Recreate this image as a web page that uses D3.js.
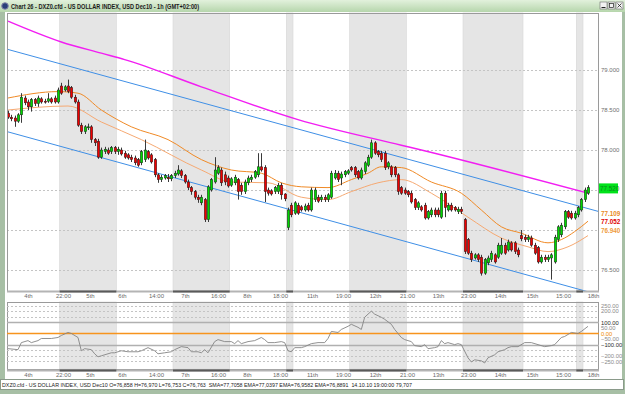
<!DOCTYPE html>
<html><head><meta charset="utf-8">
<script src="https://cdn.jsdelivr.net/npm/d3@7"></script>
<style>html,body{margin:0;padding:0;background:#fff;overflow:hidden}text{font-family:"Liberation Sans",Arial,sans-serif}</style>
</head><body><svg id="c" width="625" height="394"></svg>
<script>
// ---------- DATA ----------
const opens=[78.46,78.41,78.40,78.36,78.44,78.65,78.60,78.54,78.63,78.58,78.64,78.61,78.61,78.64,78.65,78.60,78.80,78.75,78.80,78.78,78.66,78.60,78.31,78.23,78.28,78.29,78.13,78.11,77.91,77.98,78.00,77.98,78.03,77.98,78.00,77.96,77.94,77.91,77.90,77.88,77.84,77.88,77.98,77.94,77.88,77.69,77.63,77.65,77.66,77.64,77.68,77.70,77.74,77.68,77.60,77.53,77.48,77.41,77.34,77.38,77.13,77.50,77.60,77.71,77.75,77.69,77.65,77.56,77.59,77.63,77.56,77.48,77.59,77.63,77.66,77.69,77.79,77.78,77.50,77.49,77.48,77.48,77.56,77.45,77.03,77.31,77.21,77.31,77.29,77.25,77.31,77.25,77.38,77.41,77.38,77.41,77.38,77.41,77.65,77.71,77.65,77.69,77.71,77.78,77.78,77.73,77.65,77.73,77.81,77.91,78.09,77.98,77.96,77.96,77.79,77.79,77.78,77.69,77.53,77.50,77.48,77.46,77.38,77.28,77.29,77.31,77.15,77.19,77.25,77.25,77.16,77.46,77.25,77.31,77.28,77.23,77.26,77.13,76.88,76.71,76.65,76.69,76.66,76.46,76.59,76.63,76.69,76.66,76.71,76.81,76.75,76.84,76.84,76.75,76.93,76.91,76.88,76.90,76.81,76.78,76.60,76.66,76.63,76.65,76.60,76.88,76.94,77.04,77.23,77.21,77.15,77.19,77.25,77.38,77.46];
const highs=[78.49,78.44,78.43,78.46,78.71,78.68,78.63,78.65,78.65,78.68,78.66,78.64,78.71,78.66,78.68,78.78,78.84,78.81,78.88,78.80,78.69,78.63,78.34,78.31,78.33,78.31,78.15,78.14,78.03,78.04,78.03,78.05,78.05,78.04,78.03,77.99,77.96,77.94,77.93,77.90,78.00,78.13,78.00,77.96,77.90,77.71,77.69,77.70,77.70,77.70,77.74,77.81,77.76,77.70,77.63,77.55,77.50,77.44,77.44,77.40,77.56,77.65,77.91,77.81,77.78,77.73,77.68,77.66,77.69,77.65,77.59,77.63,77.68,77.69,77.75,77.96,77.96,77.81,77.53,77.51,77.55,77.59,77.59,77.46,77.28,77.34,77.36,77.34,77.31,77.33,77.34,77.53,77.53,77.44,77.44,77.44,77.46,77.74,77.75,77.74,77.73,77.75,77.76,77.80,77.80,77.75,77.78,77.86,77.94,78.13,78.11,78.00,77.99,77.99,77.86,77.81,77.80,77.71,77.55,77.53,77.50,77.49,77.40,77.36,77.31,77.34,77.25,77.28,77.28,77.28,77.49,77.49,77.34,77.34,77.30,77.29,77.29,77.15,76.90,76.74,76.71,76.71,76.69,76.65,76.68,76.74,76.71,76.84,76.90,76.84,76.88,76.86,76.86,76.78,77.00,76.94,76.94,76.93,76.84,76.80,76.69,76.69,76.69,76.71,76.94,77.06,77.09,77.25,77.25,77.24,77.24,77.30,77.40,77.53,77.56];
const lows=[78.39,78.36,78.29,78.34,78.34,78.56,78.50,78.48,78.55,78.54,78.58,78.58,78.59,78.58,78.58,78.58,78.69,78.73,78.71,78.64,78.58,78.29,78.20,78.20,78.25,78.09,78.05,77.89,77.89,77.95,77.94,77.95,77.95,77.94,77.93,77.89,77.88,77.85,77.81,77.79,77.81,77.85,77.88,77.83,77.66,77.59,77.60,77.63,77.60,77.61,77.65,77.68,77.65,77.58,77.50,77.44,77.38,77.34,77.31,77.10,77.10,77.48,77.58,77.69,77.55,77.56,77.53,77.54,77.56,77.38,77.44,77.45,77.56,77.60,77.64,77.66,77.73,77.35,77.43,77.43,77.45,77.45,77.38,77.36,77.00,77.16,77.19,77.19,77.23,77.23,77.23,77.23,77.35,77.34,77.35,77.35,77.35,77.39,77.63,77.60,77.56,77.66,77.69,77.73,77.66,77.63,77.63,77.70,77.79,77.89,77.94,77.91,77.85,77.75,77.76,77.66,77.66,77.44,77.44,77.44,77.41,77.33,77.25,77.25,77.23,77.13,77.13,77.16,77.16,77.16,77.14,77.16,77.23,77.23,77.23,77.20,77.20,76.70,76.69,76.60,76.63,76.60,76.43,76.44,76.56,76.60,76.58,76.64,76.69,76.69,76.73,76.73,76.70,76.66,76.86,76.85,76.85,76.79,76.69,76.58,76.58,76.60,76.60,76.38,76.58,76.85,76.91,77.01,77.14,77.13,77.13,77.16,77.23,77.35,77.44];
const closes=[78.41,78.39,78.36,78.44,78.66,78.59,78.54,78.63,78.58,78.65,78.60,78.60,78.64,78.60,78.60,78.75,78.71,78.79,78.73,78.66,78.60,78.31,78.23,78.29,78.29,78.13,78.09,77.91,78.00,78.01,77.96,78.03,77.98,78.01,77.95,77.91,77.90,77.88,77.84,77.81,77.98,78.00,77.90,77.85,77.69,77.63,77.66,77.68,77.64,77.68,77.71,77.75,77.68,77.60,77.53,77.48,77.41,77.38,77.41,77.13,77.54,77.63,77.75,77.78,77.59,77.60,77.55,77.64,77.66,77.48,77.48,77.60,77.65,77.66,77.73,77.79,77.75,77.48,77.46,77.45,77.53,77.56,77.44,77.39,77.25,77.19,77.34,77.21,77.25,77.30,77.25,77.50,77.50,77.36,77.41,77.38,77.44,77.71,77.71,77.63,77.70,77.73,77.74,77.75,77.69,77.65,77.75,77.84,77.91,78.09,77.96,77.94,77.88,77.78,77.84,77.69,77.69,77.48,77.46,77.46,77.44,77.35,77.28,77.34,77.25,77.15,77.23,77.25,77.19,77.19,77.46,77.28,77.31,77.25,77.25,77.26,77.23,76.73,76.71,76.63,76.69,76.63,76.46,76.63,76.65,76.71,76.60,76.81,76.81,76.71,76.85,76.75,76.73,76.69,76.89,76.88,76.91,76.81,76.71,76.60,76.66,76.63,76.66,76.69,76.91,77.04,77.06,77.23,77.16,77.15,77.21,77.28,77.38,77.50,77.53];

// moving averages sampled at bar indices
const smaIdx=[0,16,28,35,58,87,118,124,174];
const smaVal=[79.61,79.35,79.21,79.13,78.79,78.38,78.06,78.00,77.46];
const ema1Idx=[0,15,21,28,37,48,58,67,76,82,88,96,103,108,112,118,127,136,142,148,154,162,166,170,174];
const ema1Val=[78.65,78.73,78.71,78.50,78.29,78.13,77.88,77.75,77.71,77.59,77.54,77.53,77.63,77.71,77.79,77.78,77.60,77.46,77.25,77.04,76.96,76.84,76.88,76.98,77.11];
const ema2Idx=[0,18,28,40,58,67,78,88,96,103,111,118,127,138,148,156,162,168,174];
const ema2Val=[78.50,78.55,78.35,78.13,77.75,77.60,77.59,77.41,77.38,77.48,77.59,77.63,77.46,77.16,76.90,76.79,76.73,76.79,76.93];

// regression channel (edges of the window)
const chanIdx=[-0.3,177.3];
const chanUpper=[79.26,77.23];
const chanLower=[78.23,76.19];

// CCI indicator
const cciIdx=[0,3,4,6,7,9,10,13,15,16,18,19,21,22,23,25,26,27,28,31,32,34,36,39,40,42,44,45,47,49,50,52,54,55,57,58,59,60,62,63,65,67,68,69,70,72,74,76,77,78,80,82,83,84,85,86,88,89,91,93,95,96,97,99,100,102,103,105,106,107,108,109,110,112,113,115,116,118,119,121,122,124,125,126,128,129,130,131,132,134,135,136,138,139,140,142,143,144,146,147,149,150,151,153,155,157,159,161,163,164,166,167,169,171,172,174];
const cciVal=[-136,-145,-82,-64,-82,-64,-45,-45,-36,-18,9,0,-36,-155,-136,-145,-182,-209,-200,-173,-173,-155,-164,-164,-155,-127,-155,-182,-173,-164,-145,-118,-127,-164,-164,-173,-145,-173,-73,-55,-73,-73,-91,-64,-91,-73,-64,-36,-55,-82,-82,-73,-82,-155,-164,-127,-127,-118,-91,-82,-82,-45,18,9,36,64,82,55,36,145,173,200,173,145,127,82,36,-36,-55,-73,-109,-118,-100,-136,-127,-118,-64,-91,-82,-100,-91,-100,-218,-255,-236,-245,-264,-218,-191,-164,-145,-127,-118,-118,-82,-82,-100,-118,-109,-100,-36,-27,9,0,18,64];

// sessions (shaded days), bar-index ranges
const shadedStart=[16,50,84,103,137,171];
const shadedEnd=[33,67,86,120,155,173];

// time axis labels
const timeLabels=["4th","22:00","5th","6th","14:00","7th","16:00","8th","18:00","11th","19:00","12th","21:00","13th","23:00","14th","15th","15:00","18th"];
const timeLabelIdx=[6,16.5,24.6,34.2,44.4,53.1,63,71.7,81.6,91.2,100.5,110.1,119.7,129,138,147.6,157.2,166.5,175.5];

const priceGrid=[79,78.5,78,77.5,77,76.5];
const priceTicks=[79,78.5,78,76.5];
const lastPrice=77.52;
const valueLabels=[77.109,77.052,76.940];
const valueColors=["#e8891a","#e00000","#ee9a3a"];
const cciGridDotted=[250,200,150,-150,-200,-250];
const cciLevels=[100,-100];
const cciTicks=[250,200,100,50,0,-50,-100,-200,-250];

const titleText="Chart 26 - DXZ0.cfd - US DOLLAR INDEX, USD Dec10 - 1h (GMT+02:00)";
const statusText="DXZ0.cfd - US DOLLAR INDEX, USD Dec10 O=76,858 H=76,970 L=76,753 C=76,763  SMA=77,7058 EMA=77,0397 EMA=76,9582 EMA=76,8891  14.10.10 19:00:00 79,707";

// ---------- DRAW ----------
const svg=d3.select("#c");
const L=7,R=599,T=13,B=291,LT=302,LB=369;
const x=d3.scaleLinear().domain([-0.3,177.3]).range([L,R]);
const y=d3.scaleLinear().domain([76.2375,79.7125]).range([B,T]);
const yc=d3.scaleLinear().domain([-318.2,281.8]).range([LB,LT]);

// window chrome
const defs=svg.append("defs");
const g1=defs.append("linearGradient").attr("id","tb").attr("x1",0).attr("y1",0).attr("x2",0).attr("y2",1);
g1.append("stop").attr("offset","0%").attr("stop-color","#e2f1dc");
g1.append("stop").attr("offset","100%").attr("stop-color","#b6d6ac");
defs.append("clipPath").attr("id","cm").append("rect").attr("x",L).attr("y",T).attr("width",R-L).attr("height",B-T);
defs.append("clipPath").attr("id","cl").append("rect").attr("x",L).attr("y",LT).attr("width",R-L).attr("height",LB-LT);

svg.append("rect").attr("width",625).attr("height",394).attr("fill","#a7bfa5");
svg.append("rect").attr("x",0).attr("y",0).attr("width",625).attr("height",12).attr("fill","url(#tb)");
svg.append("rect").attr("x",5).attr("y",12).attr("width",617).attr("height",367).attr("fill","#fff");
svg.append("circle").attr("cx",5).attr("cy",6).attr("r",3.3).attr("fill","#2a3f7a").attr("stroke","#88a","stroke-width",0.6);
svg.append("text").attr("x",11).attr("y",9).attr("font-size",7.5).attr("font-weight","bold").attr("fill","#1b1b1b")
  .attr("textLength",188).attr("lengthAdjust","spacingAndGlyphs").text(titleText);
[600,608,616].forEach((bx,i)=>{
  svg.append("rect").attr("x",bx).attr("y",2).attr("width",7).attr("height",7).attr("fill","#f2f2f2").attr("stroke","#6a6a6a").attr("stroke-width",0.6);
});
svg.append("line").attr("x1",601.5).attr("x2",605.5).attr("y1",7.5).attr("y2",7.5).attr("stroke","#222");
svg.append("rect").attr("x",609.5).attr("y",3.5).attr("width",4).attr("height",4).attr("fill","none").attr("stroke","#222").attr("stroke-width",0.7);
svg.append("path").attr("d","M617.5,3.5L621.5,7.5M621.5,3.5L617.5,7.5").attr("stroke","#222").attr("stroke-width",0.8);

function panel(top,bottom){
  const gp=svg.append("g");
  gp.append("rect").attr("x",L).attr("y",top).attr("width",R-L).attr("height",bottom-top).attr("fill","#fff");
  shadedStart.forEach((s,i)=>{
    gp.append("rect").attr("x",x(s-0.5)).attr("y",top).attr("width",x(shadedEnd[i]-0.5)-x(s-0.5)).attr("height",bottom-top)
      .attr("fill","#e5e5e5").attr("stroke","#d6d6d6").attr("stroke-width",0.6);
  });
  return gp;
}
panel(T,B); panel(LT,LB);

// main grid
const gm=svg.append("g").attr("clip-path","url(#cm)");
gm.selectAll(".pg").data(priceGrid).join("line").attr("x1",L).attr("x2",R)
  .attr("y1",d=>Math.round(y(d))+0.5).attr("y2",d=>Math.round(y(d))+0.5)
  .attr("stroke","#c4c4c4").attr("stroke-dasharray","2,2");

const lineGen=(xs,vs,sc,curve)=>d3.line().x((d,i)=>x(xs[i])).y((d,i)=>sc(vs[i])).curve(curve||d3.curveLinear)(vs);
gm.append("path").attr("d",lineGen(chanIdx,chanUpper,y)).attr("fill","none").attr("stroke","#3f8fe6").attr("stroke-width",1);
gm.append("path").attr("d",lineGen(chanIdx,chanLower,y)).attr("fill","none").attr("stroke","#3f8fe6").attr("stroke-width",1);
gm.append("path").attr("d",lineGen(ema2Idx,ema2Val,y,d3.curveMonotoneX)).attr("fill","none").attr("stroke","#f6a972").attr("stroke-width",1);
gm.append("path").attr("d",lineGen(ema1Idx,ema1Val,y,d3.curveMonotoneX)).attr("fill","none").attr("stroke","#f08a26").attr("stroke-width",1);
gm.append("path").attr("d",lineGen(smaIdx,smaVal,y,d3.curveMonotoneX)).attr("fill","none").attr("stroke","#f21ef2").attr("stroke-width",1.4);

// candles
const bw=(x(1)-x(0))*0.74;
const idx=d3.range(closes.length);
gm.selectAll(".wk").data(idx).join("line")
  .attr("x1",i=>Math.round(x(i))+0.5).attr("x2",i=>Math.round(x(i))+0.5)
  .attr("y1",i=>y(highs[i])).attr("y2",i=>y(lows[i])).attr("stroke","#3a3a3a").attr("stroke-width",1);
gm.selectAll(".bd").data(idx).join("rect")
  .attr("x",i=>Math.round(x(i))+0.5-bw/2).attr("width",bw)
  .attr("y",i=>y(Math.max(opens[i],closes[i])))
  .attr("height",i=>Math.max(1,Math.abs(y(opens[i])-y(closes[i]))))
  .attr("fill",i=>closes[i]>=opens[i]?"#00d800":"#f00000")
  .attr("stroke","#1c1c1c").attr("stroke-width",0.5);

// panel borders
svg.append("rect").attr("x",L+0.5).attr("y",T+0.5).attr("width",R-L-1).attr("height",B-T).attr("fill","none").attr("stroke","#9a9a9a");
svg.append("rect").attr("x",L+0.5).attr("y",LT+0.5).attr("width",R-L-1).attr("height",LB-LT).attr("fill","none").attr("stroke","#9a9a9a");

// time axes (thick baseline, dark under shaded sessions)
function timeAxis(yy,labelY){
  svg.append("line").attr("x1",L).attr("x2",R).attr("y1",yy).attr("y2",yy).attr("stroke","#b4b4b4").attr("stroke-width",2);
  shadedStart.forEach((s,i)=>svg.append("line").attr("x1",x(s-0.5)).attr("x2",x(shadedEnd[i]-0.5)).attr("y1",yy).attr("y2",yy).attr("stroke","#5a5a5a").attr("stroke-width",2));
  const ax=svg.append("g").attr("transform",`translate(0,${labelY})`)
    .call(d3.axisBottom(x).tickValues(timeLabelIdx).tickFormat((d,i)=>timeLabels[i]).tickSize(0).tickPadding(0));
  ax.select(".domain").remove();
  ax.selectAll("text").attr("font-size",6).attr("fill","#6a6a6a").attr("font-family","Liberation Sans, Arial, sans-serif");
}
timeAxis(B+0.5,293.5);
timeAxis(LB+1.5,372.5);

// right price axis
const ay=svg.append("g").attr("transform",`translate(${R+1},0)`)
  .call(d3.axisRight(y).tickValues(priceTicks).tickFormat(d3.format(".3f")).tickSize(0).tickPadding(1));
ay.select(".domain").remove();
ay.selectAll("text").attr("font-size",6).attr("fill","#6f6f6f").attr("font-family","Liberation Sans, Arial, sans-serif");

// indicator value labels (stacked upward from the lowest)
let prevY=1e9;
const vlPos=valueLabels.map(v=>y(v)-4).reverse().map(p=>{const q=Math.min(p,prevY-8.5);prevY=q;return q;}).reverse();
valueLabels.forEach((v,i)=>{
  svg.append("text").attr("x",R+2).attr("y",vlPos[i]+2.2).attr("font-size",6.3).attr("font-weight","bold").attr("fill",valueColors[i]).text(d3.format(".3f")(v));
});
svg.append("rect").attr("x",R).attr("y",y(lastPrice)-5).attr("width",19).attr("height",10).attr("fill","#00e21a");
svg.append("text").attr("x",R+1).attr("y",y(lastPrice)+2.2).attr("font-size",6.3).attr("fill","#0a8a1a").text(d3.format(".3f")(lastPrice));

// CCI panel
const gl=svg.append("g").attr("clip-path","url(#cl)");
gl.selectAll(".cg").data(cciGridDotted).join("line").attr("x1",L).attr("x2",R)
  .attr("y1",d=>Math.round(yc(d))+0.5).attr("y2",d=>Math.round(yc(d))+0.5).attr("stroke","#c4c4c4").attr("stroke-dasharray","2,2");
gl.selectAll(".cl").data(cciLevels).join("line").attr("x1",L).attr("x2",R)
  .attr("y1",d=>Math.round(yc(d))+0.5).attr("y2",d=>Math.round(yc(d))+0.5).attr("stroke","#b0b0b0").attr("stroke-width",1.5);
gl.append("line").attr("x1",L).attr("x2",R).attr("y1",yc(0)).attr("y2",yc(0)).attr("stroke","#f7941d").attr("stroke-width",1.5);
gl.append("path").attr("d",lineGen(cciIdx,cciVal,yc)).attr("fill","none").attr("stroke","#858585").attr("stroke-width",0.9);

const ac=svg.append("g").attr("transform",`translate(${R+1},0)`)
  .call(d3.axisRight(yc).tickValues(cciTicks).tickFormat(d3.format(".2f")).tickSize(0).tickPadding(1));
ac.select(".domain").remove();
ac.selectAll("text").attr("font-size",5.8).attr("font-family","Liberation Sans, Arial, sans-serif")
  .attr("fill",d=>d===0?"#f08a00":(Math.abs(d)===100?"#2a2a2a":"#8a8a8a"));

// status bar
svg.append("rect").attr("x",0.5).attr("y",379.5).attr("width",623).attr("height",10).attr("fill","#fff").attr("stroke","#8a9a8a");
svg.append("text").attr("x",2).attr("y",387).attr("font-size",6.2).attr("fill","#1a1a1a").style("white-space","pre")
  .attr("textLength",410).attr("lengthAdjust","spacingAndGlyphs").text(statusText);
</script></body></html>
